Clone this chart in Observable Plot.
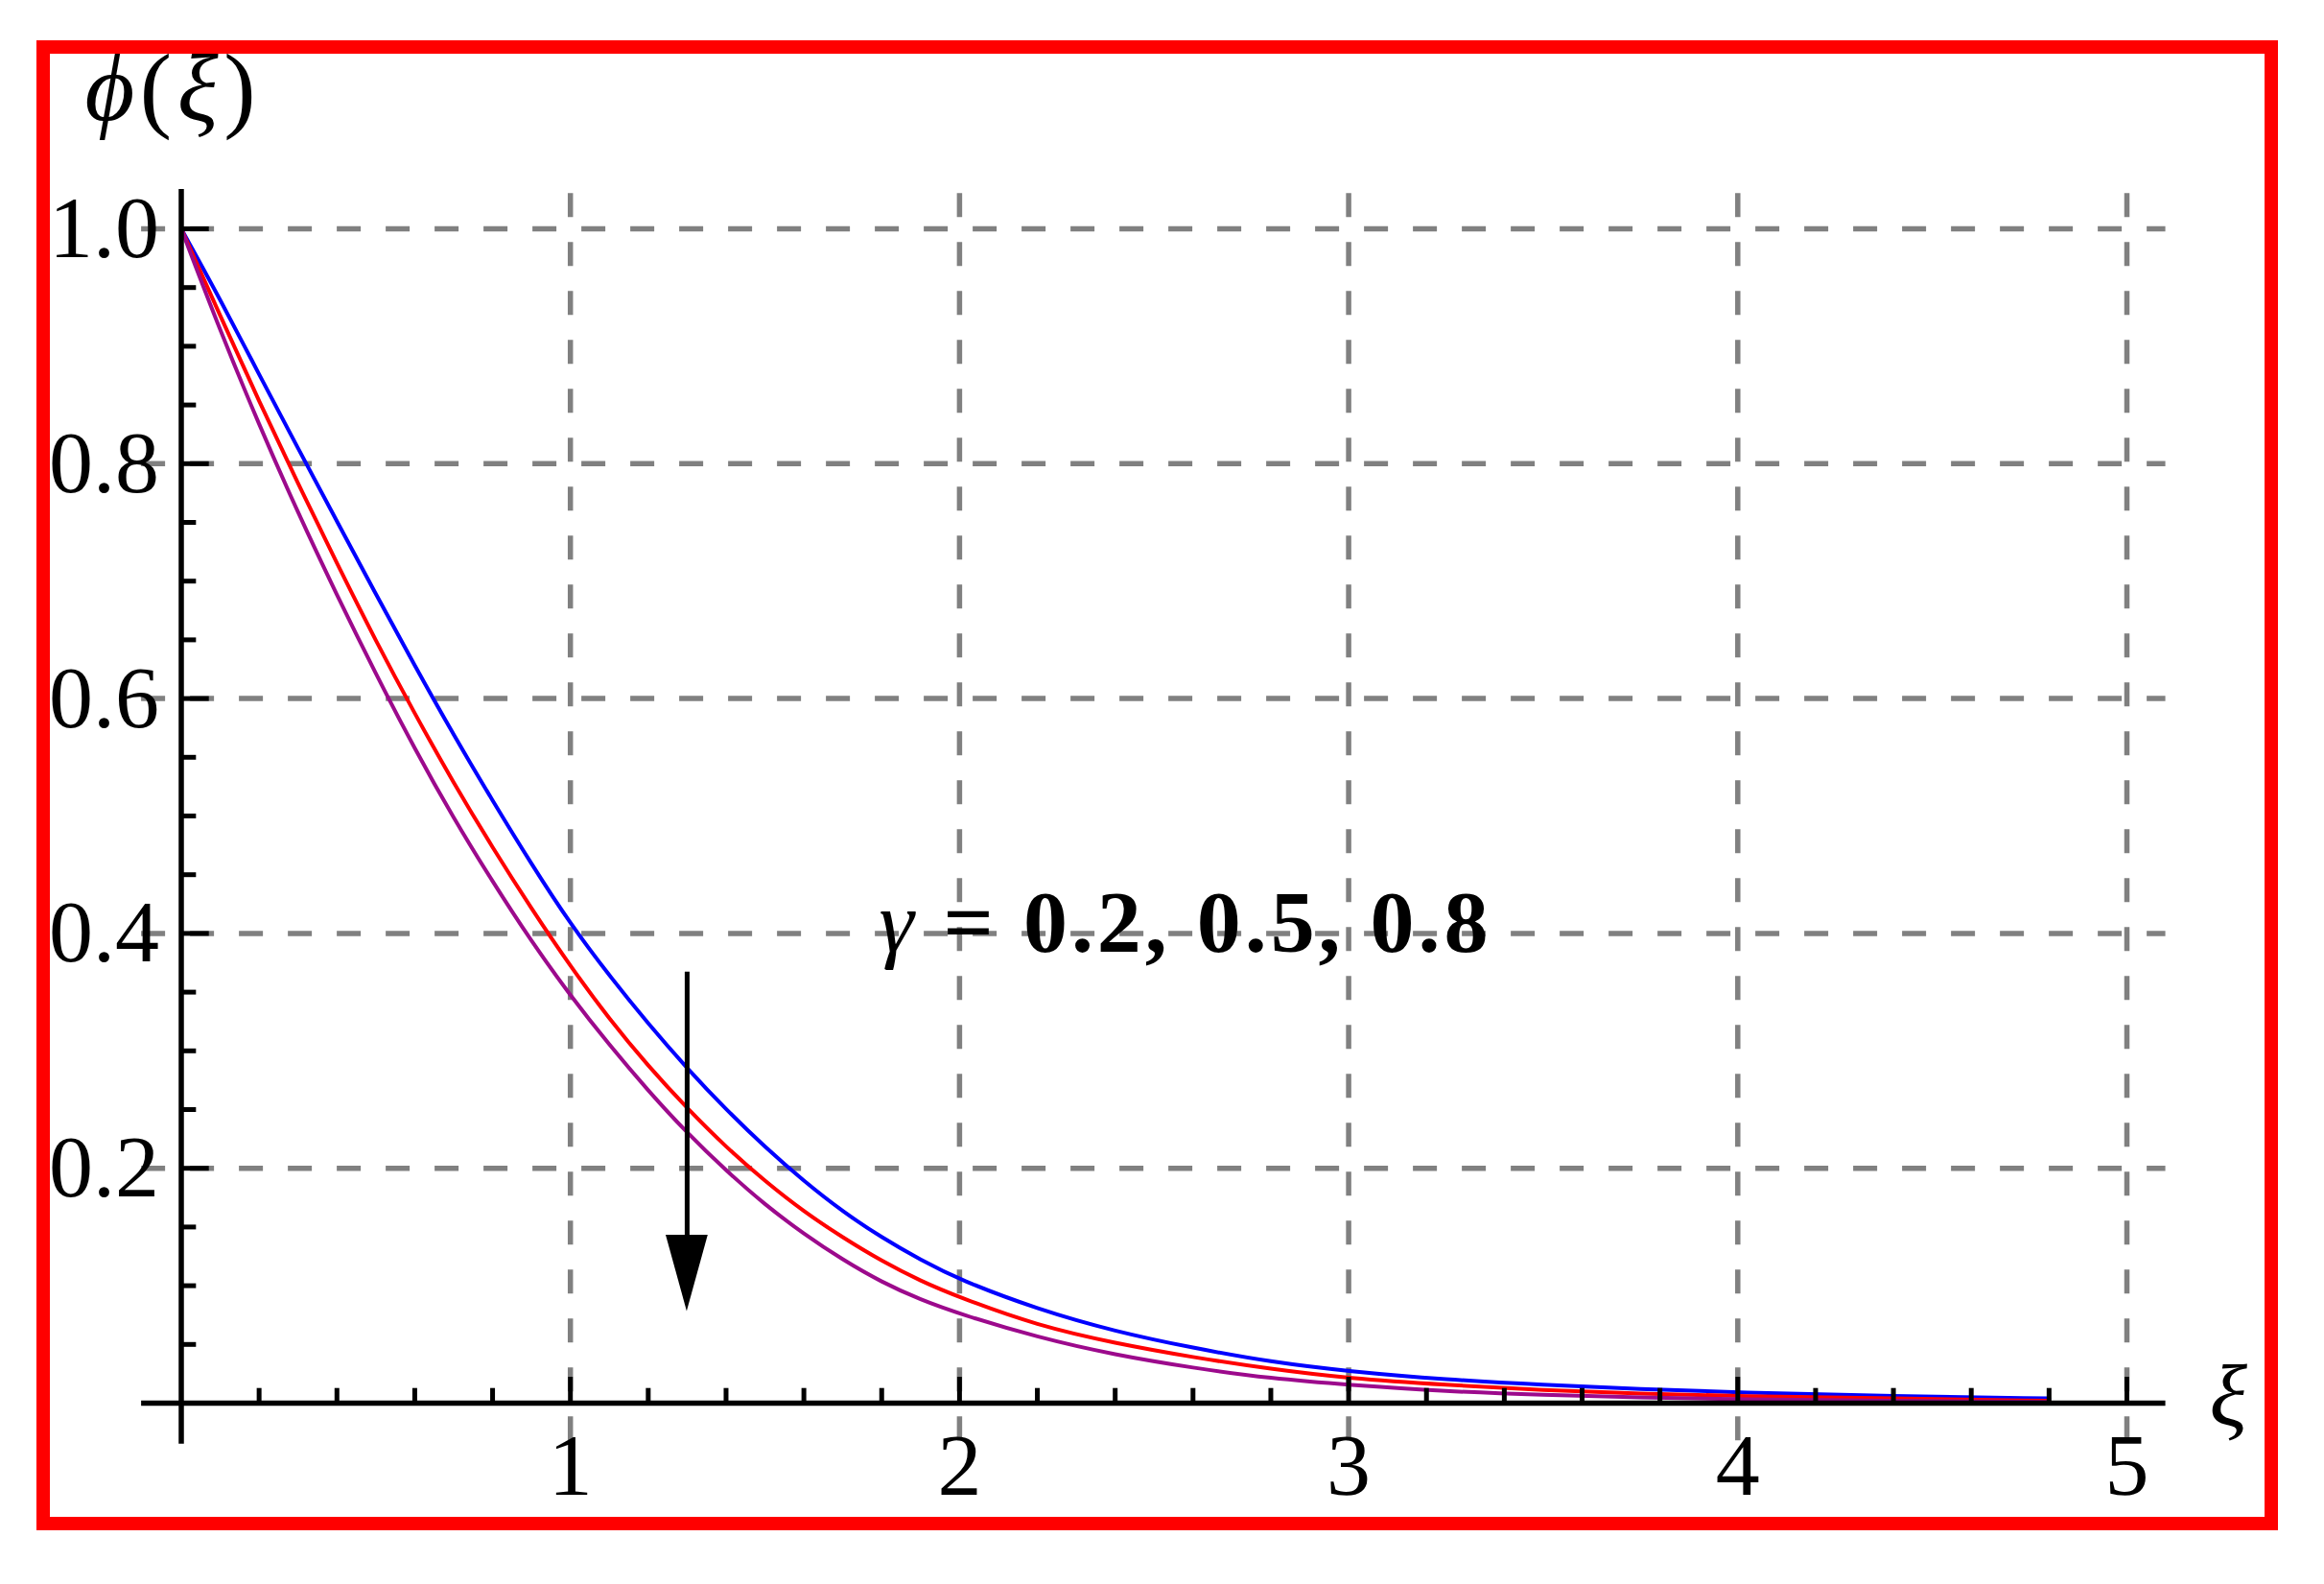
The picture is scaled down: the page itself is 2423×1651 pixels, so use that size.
<!DOCTYPE html>
<html><head><meta charset="utf-8">
<script src="https://cdn.jsdelivr.net/npm/d3@7"></script>
<script src="https://cdn.jsdelivr.net/npm/@observablehq/plot@0.6"></script>
<style>
html,body{margin:0;padding:0;background:#fff;overflow:hidden;}
#wrap{position:relative;width:2423px;height:1651px;background:#fff;}
#chart{position:absolute;left:0;top:0;}
#frame{position:absolute;left:38px;top:42px;width:2337px;height:1553px;box-sizing:border-box;border:14px solid #ff0000;pointer-events:none;}
</style></head>
<body><div id="wrap"><div id="chart"></div><div id="frame"></div></div>
<script>
// ---- data ----
const xi = [0, 0.1, 0.2, 0.3, 0.4, 0.5, 0.6, 0.7, 0.8, 0.9, 1.0,
            1.1, 1.2, 1.3, 1.4, 1.5, 1.6, 1.7, 1.8, 1.9, 2.0,
            2.2, 2.4, 2.6, 2.8, 3.0, 3.25, 3.5, 3.75, 4.0, 4.4, 4.8];
const phiGamma02 = [1.000, 0.940, 0.876, 0.813, 0.751, 0.689, 0.628, 0.569, 0.513, 0.459, 0.408,
                    0.364, 0.323, 0.285, 0.250, 0.218, 0.189, 0.163, 0.141, 0.122, 0.105,
                    0.080, 0.061, 0.047, 0.035, 0.027, 0.020, 0.0155, 0.012, 0.009, 0.006, 0.004];
const phiGamma05 = [1.000, 0.926, 0.853, 0.783, 0.715, 0.649, 0.587, 0.528, 0.473, 0.421, 0.372,
                    0.327, 0.287, 0.251, 0.218, 0.189, 0.163, 0.141, 0.121, 0.104, 0.090,
                    0.066, 0.051, 0.039, 0.029, 0.021, 0.0155, 0.011, 0.008, 0.006, 0.004, 0.002];
const phiGamma08 = [1.000, 0.913, 0.833, 0.758, 0.688, 0.621, 0.557, 0.498, 0.444, 0.393, 0.347,
                    0.305, 0.266, 0.230, 0.198, 0.169, 0.144, 0.122, 0.103, 0.088, 0.076,
                    0.056, 0.041, 0.030, 0.021, 0.0155, 0.010, 0.007, 0.005, 0.003, 0.002, 0.001];
const gammaLabels = ["0.2", "0.5", "0.8"];
const xTickValues = [1, 2, 3, 4, 5];
const xTickLabels = ["1", "2", "3", "4", "5"];
const yTickValues = [0.2, 0.4, 0.6, 0.8, 1.0];
const yTickLabels = ["0.2", "0.4", "0.6", "0.8", "1.0"];
const xMinorTicks = [0.2,0.4,0.6,0.8,1.2,1.4,1.6,1.8,2.2,2.4,2.6,2.8,3.2,3.4,3.6,3.8,4.2,4.4,4.6,4.8];
const yMinorTicks = [0.05,0.1,0.15,0.25,0.3,0.35,0.45,0.5,0.55,0.65,0.7,0.75,0.85,0.9,0.95];
const arrowXi = [1.3];
const arrowFrom = [0.367];
const arrowTo = [0.078];

// ---- build ----
const annotation = "γ = " + gammaLabels.join(", ");
const yLabel = "ϕ(ξ)";
const series = [
  {vals: phiGamma02, color: "#0000ff"},
  {vals: phiGamma05, color: "#ff0000"},
  {vals: phiGamma08, color: "#9c0a8c"}
];
const xLo = -0.102, xHi = 5.1, yLo = -0.035, yHi = 1.0335;
const gridStyle = {stroke: "#808080", strokeWidth: 5.5, strokeDasharray: "25,26"};
const axisStyle = {stroke: "#000", strokeWidth: 5.5};
const tickStyle = {stroke: "#000", strokeWidth: 5};

const headLen = 0.065, headHalf = 0.054;
const head = [];
arrowXi.forEach((x, i) => {
  const tip = arrowTo[i], base = tip + headLen;
  head.push({x: x - headHalf, y1: base, y2: base, g: i});
  head.push({x: x, y1: tip, y2: base, g: i});
  head.push({x: x + headHalf, y1: base, y2: base, g: i});
});

const serif = "'Liberation Serif', 'Times New Roman', serif";
const chart = Plot.plot({
  width: 2423, height: 1651,
  marginLeft: 188.5, marginRight: 206, marginTop: 238, marginBottom: 189,
  x: {domain: [0, 5], axis: null},
  y: {domain: [0, 1], axis: null},
  style: {fontFamily: serif, fontSize: "92px", background: "transparent", overflow: "visible"},
  marks: [
    Plot.ruleY(yTickValues, {y: d => d, x1: xLo, x2: xHi, ...gridStyle}),
    Plot.ruleX(xTickValues, {x: d => d, y1: 1.03, y2: yLo, ...gridStyle}),
    ...series.map(s => Plot.line(xi, {x: d => d, y: (d, i) => s.vals[i], stroke: s.color, strokeWidth: 4, curve: "basis"})),
    Plot.ruleY([0], {y: d => d, x1: xLo, x2: xHi, ...axisStyle}),
    Plot.ruleX([0], {x: d => d, y1: yLo, y2: yHi, ...axisStyle}),
    Plot.ruleX(xTickValues, {x: d => d, y1: 0, y2: 0.022, ...tickStyle}),
    Plot.ruleX(xMinorTicks, {x: d => d, y1: 0, y2: 0.0125, ...tickStyle}),
    Plot.ruleY(yTickValues, {y: d => d, x1: 0, x2: 0.072, ...tickStyle}),
    Plot.ruleY(yMinorTicks, {y: d => d, x1: 0, x2: 0.039, ...tickStyle}),
    Plot.text(xTickValues, {x: d => d, y: 0, text: (d, i) => xTickLabels[i], dy: 30, lineAnchor: "top", textAnchor: "middle", fontSize: 92, fill: "#000"}),
    Plot.text(yTickValues, {x: 0, y: d => d, text: (d, i) => yTickLabels[i], dx: -23, lineAnchor: "middle", textAnchor: "end", fontSize: 92, fill: "#000"}),
    Plot.ruleX(arrowXi, {x: d => d, y1: (d, i) => arrowFrom[i], y2: (d, i) => arrowTo[i] + headLen * 0.9, stroke: "#000", strokeWidth: 5}),
    Plot.areaY(head, {x: "x", y1: "y1", y2: "y2", z: "g", fill: "#000", curve: "linear"}),
    Plot.text([annotation], {x: 1.793, y: 0.384, text: d => d, textAnchor: "start", lineAnchor: "bottom", fontSize: 92, fontWeight: "bold", fill: "#000"}),
    Plot.text([yLabel], {x: -0.2477, y: 1.093, text: d => d, textAnchor: "start", lineAnchor: "bottom", fontSize: 100, fill: "#000"}),
    Plot.text(["ξ"], {x: 5.212, y: -0.0188, text: d => d, textAnchor: "start", lineAnchor: "bottom", fontSize: 92, fontStyle: "italic", fill: "#000"})
  ]
});
document.getElementById("chart").appendChild(chart);

// rich text styling (italic symbols, bold numbers)
function rich(match, parts, extra) {
  chart.querySelectorAll("text").forEach(t => {
    if (t.textContent !== match) return;
    while (t.firstChild) t.removeChild(t.firstChild);
    parts.forEach(([s, st]) => {
      const ts = document.createElementNS("http://www.w3.org/2000/svg", "tspan");
      ts.textContent = s;
      for (const k in st) ts.setAttribute(k, st[k]);
      t.appendChild(ts);
    });
    if (extra) for (const k in extra) t.setAttribute(k, extra[k]);
  });
}
rich(yLabel, [["ϕ", {"font-style": "italic"}], ["(", {}], ["ξ", {"font-style": "italic"}], [")", {}]], {textLength: 178});
rich(annotation, [["γ", {"font-style": "italic", "font-weight": "normal"}], [" = " + gammaLabels.join(", "), {}]], {textLength: 635});
</script></body></html>
